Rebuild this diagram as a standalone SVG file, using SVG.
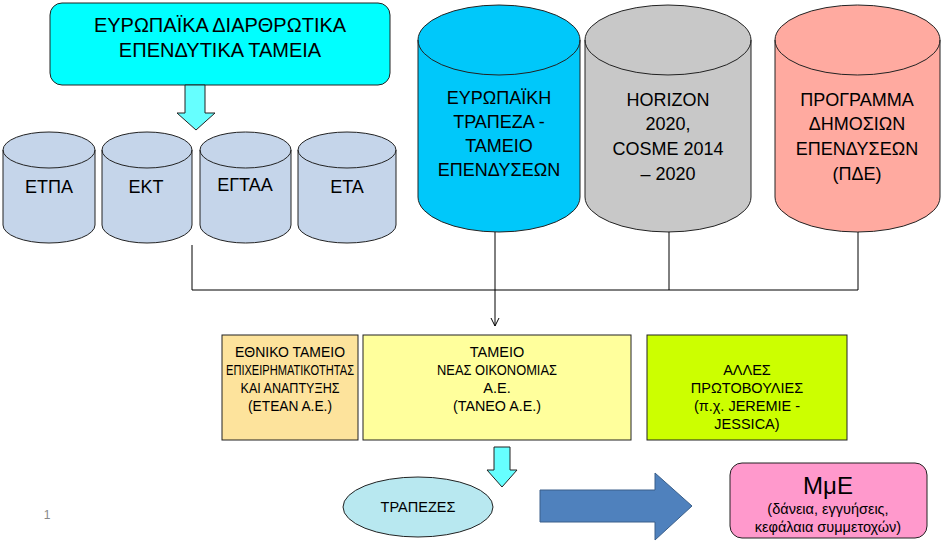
<svg xmlns="http://www.w3.org/2000/svg" width="950" height="541" viewBox="0 0 950 541">
<style>
text{font-family:"Liberation Sans",Arial,sans-serif;fill:#000;text-anchor:middle}
.s{stroke:#222;stroke-width:1}
.n{font-size:14.5px}
.c{font-size:18px}
.t{font-size:20px}
</style>
<defs>
<marker id="ah" markerWidth="10" markerHeight="10" refX="9" refY="5" orient="auto" markerUnits="userSpaceOnUse"><path d="M1,1 L9,5 L1,9" fill="none" stroke="#000"/></marker>
</defs>
<rect width="950" height="541" fill="#fff"/>
<g id="esif">
<rect x="50" y="3" width="340" height="82" rx="12" fill="#00ffff" class="s"/>
<text class="t" x="220" y="32">ΕΥΡΩΠΑΪΚΑ ΔΙΑΡΘΡΩΤΙΚΑ</text>
<text class="t" x="220" y="57">ΕΠΕΝΔΥΤΙΚΑ ΤΑΜΕΙΑ</text>
</g>
<g id="arrow1"><path d="M185,85 H205 V113 H215 L196,130 L177,113 H185 Z" fill="#66ffff" class="s"/></g>
<g id="etpa"><path d="M3,150 V225 A46,18 0 0 0 95,225 V150 A46,18 0 0 0 3,150 Z" fill="#c5d5ea" class="s"/><path d="M3,150 A46,18 0 0 0 95,150" fill="none" class="s"/><text class="c" x="49" y="193">ΕΤΠΑ</text></g>
<g id="ekt"><path d="M102,150 V225 A45,18 0 0 0 192,225 V150 A45,18 0 0 0 102,150 Z" fill="#c5d5ea" class="s"/><path d="M102,150 A45,18 0 0 0 192,150" fill="none" class="s"/><text class="c" x="146" y="193">ΕΚΤ</text></g>
<g id="egtaa"><path d="M200,150 V225 A45.5,18 0 0 0 291,225 V150 A45.5,18 0 0 0 200,150 Z" fill="#c5d5ea" class="s"/><path d="M200,150 A45.5,18 0 0 0 291,150" fill="none" class="s"/><text class="c" x="245" y="191">ΕΓΤΑΑ</text></g>
<g id="eta"><path d="M298,150 V225 A49,18 0 0 0 396,225 V150 A49,18 0 0 0 298,150 Z" fill="#c5d5ea" class="s"/><path d="M298,150 A49,18 0 0 0 396,150" fill="none" class="s"/><text class="c" x="347" y="193">ΕΤΑ</text></g>
<g id="eib"><path d="M418,40 V197 A81,35 0 0 0 580,197 V40 A81,35 0 0 0 418,40 Z" fill="#00c8fa" class="s"/><path d="M418,40 A81,35 0 0 0 580,40" fill="none" class="s"/>
<text class="c" x="499" y="104">ΕΥΡΩΠΑΪΚΗ</text><text class="c" x="499" y="128">ΤΡΑΠΕΖΑ -</text><text class="c" x="499" y="152">ΤΑΜΕΙΟ</text><text class="c" x="499" y="176">ΕΠΕΝΔΥΣΕΩΝ</text></g>
<g id="horizon"><path d="M585,40 V197 A83,35 0 0 0 751,197 V40 A83,35 0 0 0 585,40 Z" fill="#c8c8c8" class="s"/><path d="M585,40 A83,35 0 0 0 751,40" fill="none" class="s"/>
<text class="c" x="668" y="106">HORIZON</text><text class="c" x="668" y="130">2020,</text><text class="c" x="668" y="155">COSME 2014</text><text class="c" x="668" y="180">– 2020</text></g>
<g id="pde"><path d="M775,40 V197 A82.5,35 0 0 0 940,197 V40 A82.5,35 0 0 0 775,40 Z" fill="#ffaaa0" class="s"/><path d="M775,40 A82.5,35 0 0 0 940,40" fill="none" class="s"/>
<text class="c" x="857" y="106">ΠΡΟΓΡΑΜΜΑ</text><text class="c" x="857" y="130">ΔΗΜΟΣΙΩΝ</text><text class="c" x="857" y="155">ΕΠΕΝΔΥΣΕΩΝ</text><text class="c" x="857" y="180">(ΠΔΕ)</text></g>
<g id="connectors" fill="none" stroke="#000" stroke-width="1">
<path d="M192,245 V290 H858 V232"/>
<path d="M495,232 V290"/>
<path d="M669,232 V290"/>
<path d="M495,290 V326" marker-end="url(#ah)"/>
</g>
<g id="etean"><rect x="222" y="335" width="136" height="105" fill="#fde39c" class="s"/>
<text class="n" x="290" y="357" textLength="110" lengthAdjust="spacingAndGlyphs">ΕΘΝΙΚΟ ΤΑΜΕΙΟ</text><text class="n" x="290" y="375" textLength="128" lengthAdjust="spacingAndGlyphs">ΕΠΙΧΕΙΡΗΜΑΤΙΚΟΤΗΤΑΣ</text><text class="n" x="290" y="393" textLength="99" lengthAdjust="spacingAndGlyphs">ΚΑΙ ΑΝΑΠΤΥΞΗΣ</text><text class="n" x="290" y="411" textLength="84" lengthAdjust="spacingAndGlyphs">(ΕΤΕΑΝ Α.Ε.)</text></g>
<g id="taneo"><rect x="363" y="335" width="268" height="105" fill="#ffff9c" class="s"/>
<text class="n" x="497" y="357">ΤΑΜΕΙΟ</text><text class="n" x="497" y="375" textLength="120" lengthAdjust="spacingAndGlyphs">ΝΕΑΣ ΟΙΚΟΝΟΜΙΑΣ</text><text class="n" x="497" y="393">Α.Ε.</text><text class="n" x="497" y="411" textLength="88" lengthAdjust="spacingAndGlyphs">(ΤΑΝΕΟ Α.Ε.)</text></g>
<g id="alles"><rect x="647" y="335" width="200" height="105" fill="#ccff00" class="s"/>
<text class="n" x="747" y="375">ΑΛΛΕΣ</text><text class="n" x="747" y="393">ΠΡΩΤΟΒΟΥΛΙΕΣ</text><text class="n" x="747" y="411">(π.χ. JEREMIE -</text><text class="n" x="747" y="429">JESSICA)</text></g>
<g id="arrow2"><path d="M494,447 H510 V470 H517 L502,487 L487,470 H494 Z" fill="#66ffff" class="s"/></g>
<g id="trapezes"><ellipse cx="418" cy="507" rx="75" ry="30" fill="#b8e8f0" class="s"/><text class="n" x="418" y="512">ΤΡΑΠΕΖΕΣ</text></g>
<g id="bigarrow"><path d="M540,490 H655 V473 L692,506 L655,540 V522 H540 Z" fill="#4f81bd" stroke="#3a5f8a"/></g>
<g id="mme"><rect x="730" y="463" width="197" height="75" rx="12" fill="#ff99cc" class="s"/>
<text x="828" y="494" style="font-size:24px">ΜμΕ</text><text class="n" x="828" y="514">(δάνεια, εγγυήσεις,</text><text class="n" x="828" y="532">κεφάλαια συμμετοχών)</text></g>
<text x="47" y="519" style="font-size:12px;fill:#888">1</text>
</svg>
